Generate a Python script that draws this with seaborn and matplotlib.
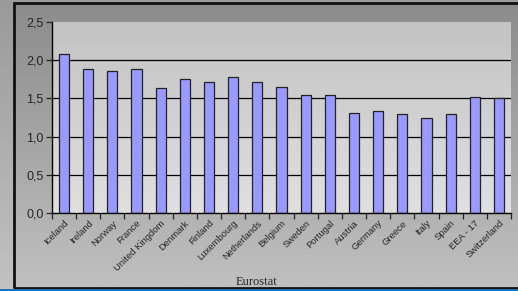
import matplotlib
matplotlib.use("Agg")
import matplotlib.pyplot as plt
import numpy as np
import pandas as pd
import seaborn as sns
from matplotlib.colors import LinearSegmentedColormap
from matplotlib.patches import Rectangle

countries = ["Iceland", "Ireland", "Norway", "France", "United Kingdom", "Denmark",
             "Finland", "Luxembourg", "Netherlands", "Belgium", "Sweden", "Portugal",
             "Austria", "Germany", "Greece", "Italy", "Spain", "EEA - 17", "Switzerland"]
fertility = [2.08, 1.88, 1.86, 1.88, 1.64, 1.76, 1.72, 1.78, 1.72, 1.65,
             1.54, 1.54, 1.31, 1.34, 1.29, 1.25, 1.29, 1.52, 1.50]
y_ticks = [0.0, 0.5, 1.0, 1.5, 2.0, 2.5]
source = "Eurostat"

df = pd.DataFrame({"country": countries, "value": fertility})

sns.set_style("white")
plt.rcParams["font.family"] = ["Liberation Sans", "DejaVu Sans"]

W, H = 518, 291
fig = plt.figure(figsize=(W / 100, H / 100), dpi=100)

# background of the whole picture
bg = fig.add_axes([0, 0, 1, 1], zorder=-10)
bg.set_axis_off()
outer = LinearSegmentedColormap.from_list("outer", ["#9a9a9a", "#c2c2c2"])
bg.imshow(np.linspace(0, 1, 256).reshape(-1, 1), cmap=outer, aspect="auto",
          extent=[0, 1, 0, 1])

# framed chart area
frame_cmap = LinearSegmentedColormap.from_list("frame", ["#8c8c8c", "#c0c0c0"])
fx0, fy0, fx1, fy1 = 14 / W, 1 - 288 / H, 1.02, 1 - 3 / H
bg.imshow(np.linspace(0, 1, 256).reshape(-1, 1), cmap=frame_cmap, aspect="auto",
          extent=[fx0, fx1, fy0, fy1], zorder=1)
bg.add_patch(Rectangle((fx0, fy0), fx1 - fx0, fy1 - fy0, fill=False,
                       edgecolor="#111111", lw=2, zorder=2))
bg.add_patch(Rectangle((0, 0), 1, 2 / H, color="#1f6fbf", lw=0, zorder=3))
bg.set_xlim(0, 1)
bg.set_ylim(0, 1)

# plot area
left, right, top, bottom = 52, 511, 22, 213
ax = fig.add_axes([left / W, 1 - bottom / H, (right - left) / W, (bottom - top) / H])
sns.barplot(data=df, x="country", y="value", ax=ax, color="#9999ff",
            width=0.42, edgecolor="#222222", linewidth=0.9, saturation=1, zorder=3)

plot_cmap = LinearSegmentedColormap.from_list("plot", ["#e0e0e0", "#c3c3c3"])
ax.imshow(np.linspace(0, 1, 256).reshape(-1, 1), cmap=plot_cmap, aspect="auto",
          extent=[-0.5, len(countries) - 0.5, 0, 2.5], origin="lower", zorder=0)

ax.set_xlim(-0.5, len(countries) - 0.5)
ax.set_ylim(0, 2.5)
ax.set_yticks(y_ticks)
ax.set_yticklabels([f"{v:.1f}".replace(".", ",") for v in y_ticks], fontsize=9)
for v in y_ticks[1:-1]:
    ax.axhline(v, color="black", lw=0.9, zorder=1)

ax.set_xticks(np.arange(len(countries)))
ax.set_xticklabels(countries, rotation=45, ha="right", rotation_mode="anchor", fontsize=6.8)
ax.tick_params(axis="x", length=0, pad=4)
ax.tick_params(axis="y", length=4, width=0.9, direction="out", left=True, pad=2)
# category boundary ticks
ax.set_xticks(np.arange(len(countries) + 1) - 0.5, minor=True)
ax.tick_params(axis="x", which="minor", length=4, width=0.9, direction="out", bottom=True)

ax.set_xlabel("")
ax.set_ylabel("")
for s in ["top", "right"]:
    ax.spines[s].set_visible(False)
for s in ["left", "bottom"]:
    ax.spines[s].set_color("black")
    ax.spines[s].set_linewidth(1.0)
    ax.spines[s].set_zorder(4)

fig.text(257 / W, 1 - 282 / H, source, family=["Liberation Serif", "DejaVu Serif"],
         fontsize=9, ha="center", va="center")

fig.savefig("out.png", dpi=100)
